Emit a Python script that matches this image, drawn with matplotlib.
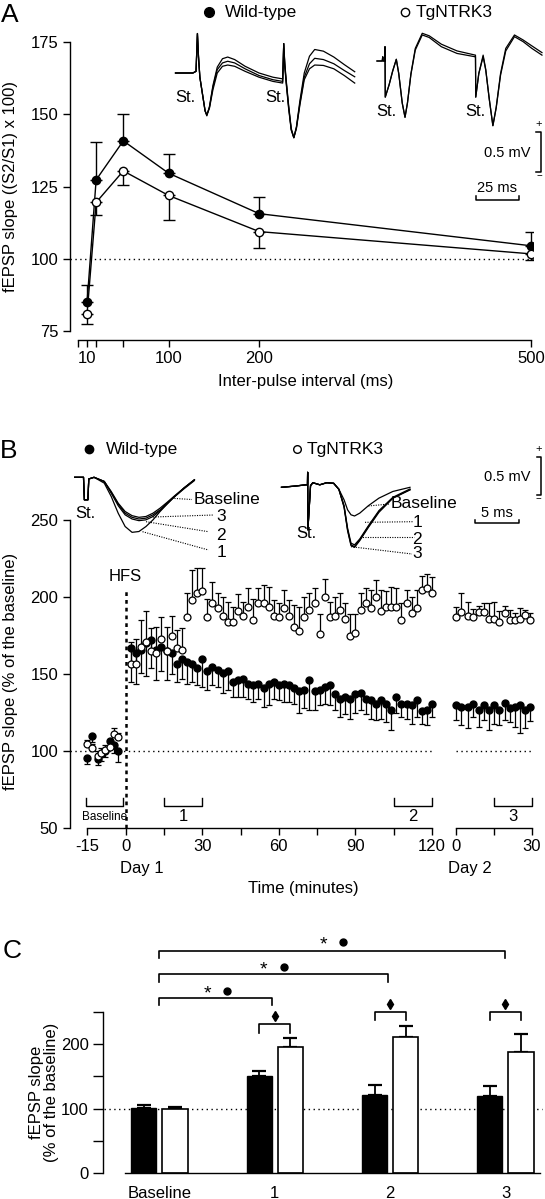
import numpy as np
import matplotlib
matplotlib.use("Agg")
import matplotlib.pyplot as plt

plt.rcParams['font.family'] = ['Liberation Sans', 'DejaVu Sans']
plt.rcParams['font.size'] = 12

W, H = 545, 1199

# ---------------- panel A : paired-pulse facilitation
ipi = [10, 20, 50, 100, 200, 500]
wt_ppf = [85, 127.3, 140.8, 129.6, 115.6, 104.5]
wt_ppf_err = [6, 13.2, 9.4, 6.7, 5.9, 4.6]
tg_ppf = [81, 119.5, 130.4, 121.9, 109.4, 101.7]
tg_ppf_err = [3.6, 4.3, 4.8, 8.4, 5.5, 2.2]

# ---------------- panel B : LTP time course
t_base = [-15, -13, -11, -9.5, -8, -6, -4.5, -3]
wt_base = [95.5, 110, 95, 98.5, 100.5, 107, 104, 100]
wt_base_err = [4, 4, 4, 5, 4, 5, 5, 7]
tg_base = [104.5, 102, 97, 99, 101, 103, 111, 109]
tg_base_err = [3, 3, 3, 3, 3, 4, 4, 3]

t_day1 = list(range(2, 121, 2))
wt_day1 = [167, 164, 166, 170, 172, 166, 168, 165, 164, 157, 160, 158, 157, 154, 160,
           152, 155, 153, 151, 152, 145, 146, 147, 144, 143, 144, 141, 144, 145, 143,
           144, 143, 141, 139, 140, 146, 139, 140, 142, 143, 137, 134, 135, 134, 137,
           138, 134, 133, 131, 133, 131, 127, 135, 131, 131, 130, 133, 126, 127, 131]
wt_day1_err = [22, 20, 15, 21, 18, 20, 16, 19, 14, 12, 13, 14, 12, 11, 18,
               12, 12, 11, 13, 12, 10, 11, 12, 10, 11, 10, 12, 14, 11, 10,
               12, 11, 10, 14, 12, 19, 12, 10, 11, 13, 10, 12, 11, 13, 12,
               11, 10, 12, 11, 12, 12, 13, 10, 9, 10, 12, 11, 8, 10, 9]
tg_day1 = [157, 157, 168, 171, 165, 164, 173, 165, 175, 167, 166, 187, 198, 203, 204,
           187, 196, 193, 188, 184, 184, 191, 188, 194, 185, 196, 196, 194, 188, 187,
           193, 188, 181, 178, 187, 192, 196, 176, 200, 187, 188, 192, 186, 175, 177,
           192, 196, 193, 200, 191, 194, 194, 194, 185, 196, 190, 193, 205, 206, 203]
tg_day1_err = [14, 16, 17, 20, 15, 17, 14, 16, 13, 12, 14, 16, 20, 16, 15,
               12, 14, 10, 12, 13, 10, 11, 9, 12, 14, 10, 12, 13, 10, 9,
               12, 10, 14, 16, 13, 11, 10, 13, 12, 10, 12, 11, 10, 14, 12,
               11, 10, 12, 11, 14, 10, 13, 12, 11, 9, 10, 12, 9, 9, 10]

t_day2 = [0, 2, 4.5, 6.5, 9, 11, 13, 15, 17, 19.5, 21.5, 23.5, 25.5, 27.5, 29.5]
wt_day2 = [130, 129, 129, 131, 126.5, 130, 127, 130, 127, 131.5, 128, 128.5, 130, 127, 128.5]
wt_day2_err = [10, 12, 14, 9, 11, 10, 13, 12, 10, 11, 9, 13, 18, 12, 9]
tg_day2 = [187, 190.5, 188, 187.5, 190.5, 190.5, 186, 186, 184, 189.5, 185, 185, 186, 188.5, 185]
tg_day2_err = [7, 12, 9, 5, 4, 6, 10, 11, 7, 5, 7, 5, 7, 3, 5]

# ---------------- panel C : bar summary
groups = ['Baseline', '1', '2', '3']
wt_bar = [101, 150, 122, 120]
wt_bar_err = [5, 9, 14.5, 15.5]
tg_bar = [100, 195, 211, 188.5]
tg_bar_err = [3.5, 15, 17.5, 27.5]

# ---------------- example traces (ms, mV)
trA_wt_t = [0, 10, 11.8, 12.6, 13.2, 14, 15.5, 17, 18, 19.5, 21.5, 24, 27, 30, 34, 40, 48,
            56, 61.6, 62.2, 62.8, 63.6, 65, 66.5, 68, 69.5, 71.5, 74, 77, 80, 85, 91, 97, 103]
trA_wt_v = [
    [0, 0, 0.02, 0.47, 0.2, -0.05, -0.25, -0.45, -0.51, -0.4, -0.15, 0.07, 0.17, 0.19, 0.16, 0.08, 0.0,
     -0.05, -0.07, 0.35, 0.12, -0.08, -0.38, -0.66, -0.77, -0.64, -0.33, 0.0, 0.2, 0.28, 0.26, 0.19, 0.1, 0.015],
    [0, 0, 0.02, 0.47, 0.2, -0.05, -0.25, -0.45, -0.5, -0.41, -0.17, 0.04, 0.12, 0.14, 0.12, 0.05, -0.03,
     -0.08, -0.1, 0.35, 0.1, -0.1, -0.4, -0.67, -0.77, -0.65, -0.36, -0.05, 0.11, 0.175, 0.16, 0.11, 0.03, -0.045],
    [0, 0, 0.02, 0.47, 0.2, -0.05, -0.25, -0.45, -0.5, -0.42, -0.2, 0.0, 0.08, 0.095, 0.08, 0.02, -0.05,
     -0.1, -0.12, 0.35, 0.08, -0.12, -0.42, -0.68, -0.77, -0.66, -0.38, -0.08, 0.05, 0.095, 0.09, 0.05, -0.03, -0.12],
]
trA_tg_t = [0, 3.0, 3.3, 3.6, 4.5, 4.6, 4.75, 7, 9, 11.1, 12.5, 14.5, 16.1, 17.5, 19.5, 22, 26, 30, 37, 46,
            56.5, 56.6, 56.75, 58.5, 61, 62.5, 64.5, 66.6, 68.5, 71, 74, 79, 84, 89, 94.8]
trA_tg_v = [
    [0, 0, 0.05, 0, 0, 0.17, -0.43, -0.28, -0.12, 0.02, -0.15, -0.5, -0.67, -0.5, -0.15, 0.15, 0.33, 0.3, 0.2, 0.12,
     0.07, 0.07, -0.43, -0.15, 0.07, -0.1, -0.45, -0.77, -0.55, -0.15, 0.15, 0.31, 0.25, 0.18, 0.1],
    [0, 0, 0.05, 0, 0, 0.17, -0.43, -0.28, -0.12, 0.02, -0.15, -0.5, -0.67, -0.5, -0.16, 0.13, 0.31, 0.28, 0.17, 0.09,
     0.05, 0.05, -0.43, -0.15, 0.05, -0.11, -0.45, -0.77, -0.56, -0.17, 0.12, 0.29, 0.23, 0.15, 0.07],
]
trB_wt_t = [0, 1.0, 1.1, 1.5, 1.6, 2.2, 3.36, 4.15, 4.94, 5.73, 6.52, 7.3, 8.1, 8.9, 9.7, 10.5, 11.26, 12.4, 13.6]
trB_wt_v = [
    [0, 0, -0.27, -0.27, -0.02, 0, -0.05, -0.17, -0.31, -0.41, -0.46, -0.48, -0.47, -0.43, -0.37, -0.30, -0.23, -0.13, -0.03],
    [0, 0, -0.27, -0.27, -0.02, 0, -0.05, -0.18, -0.32, -0.43, -0.48, -0.50, -0.49, -0.45, -0.39, -0.31, -0.24, -0.13, -0.03],
    [0, 0, -0.27, -0.27, -0.02, 0, -0.05, -0.19, -0.34, -0.45, -0.50, -0.52, -0.51, -0.47, -0.40, -0.32, -0.24, -0.14, -0.04],
    [0, 0, -0.27, -0.27, -0.02, 0, -0.07, -0.23, -0.43, -0.59, -0.66, -0.65, -0.59, -0.51, -0.41, -0.32, -0.24, -0.13, -0.03],
]
trB_tg_t = [0, 1.58, 2.77, 2.95, 2.97, 3.0, 3.3, 3.56, 4.35, 5.14, 5.93, 6.52, 7.11, 7.51, 7.9, 8.3, 8.89, 9.88, 11.07, 12.65, 14.6]
trB_tg_v = [
    [0, 0.015, 0.03, 0.03, 0.18, -0.51, 0.02, 0.055, 0.03, 0.055, 0.048, -0.024, -0.15, -0.27, -0.33, -0.344, -0.31, -0.22, -0.13, -0.05, 0],
    [0, 0.015, 0.03, 0.03, 0.18, -0.51, 0.02, 0.055, 0.03, 0.055, 0.048, -0.024, -0.22, -0.49, -0.67, -0.69, -0.62, -0.46, -0.28, -0.12, -0.02],
    [0, 0.015, 0.03, 0.03, 0.18, -0.51, 0.02, 0.055, 0.03, 0.055, 0.048, -0.024, -0.23, -0.51, -0.69, -0.71, -0.63, -0.47, -0.29, -0.13, -0.03],
    [0, 0.015, 0.03, 0.03, 0.18, -0.51, 0.02, 0.055, 0.03, 0.055, 0.048, -0.024, -0.24, -0.52, -0.70, -0.72, -0.64, -0.48, -0.30, -0.13, -0.03],
]

fig = plt.figure(figsize=(W / 100, H / 100), dpi=100)


def px_axes(x0, y0, x1, y1):
    ax = fig.add_axes([x0 / W, 1 - y1 / H, (x1 - x0) / W, (y1 - y0) / H])
    ax.patch.set_visible(False)
    return ax


def style(ax, length=5):
    for s in ['top', 'right']:
        ax.spines[s].set_visible(False)
    for s in ['left', 'bottom']:
        ax.spines[s].set_linewidth(1)
    ax.tick_params(direction='out', length=length, width=1, labelsize=12, pad=3)


def trace_axes(x0, x1, y0, y1, t0, v0, px_ms, px_mv):
    ax = px_axes(x0, y0, x1, y1)
    ax.set_xlim((x0 - t0) / px_ms, (x1 - t0) / px_ms)
    ax.set_ylim((v0 - y1) / px_mv, (v0 - y0) / px_mv)
    ax.axis('off')
    return ax


dotted = (0, (1, 2.5))

# overlay in pixel coordinates for labels and decorations
ov = px_axes(0, 0, W, H)
ov.set_xlim(0, W)
ov.set_ylim(H, 0)
ov.axis('off')
ov.set_zorder(10)

# ================= Panel A
axA = px_axes(69.5, 42, 533, 340)
style(axA)
axA.set_xlim(-9.4, 502.2)
axA.set_ylim(71.9, 175)
axA.spines['left'].set_bounds(75, 175)
axA.spines['bottom'].set_bounds(0, 500)
axA.set_yticks([75, 100, 125, 150, 175])
axA.set_xticks([0, 10, 20, 50, 100, 200, 500])
axA.set_xticklabels(['', '10', '', '', '100', '200', '500'])
axA.plot([-9.4, 506], [100, 100], color='k', lw=1, ls=dotted, clip_on=False)
n = len(ipi)
axA.errorbar(ipi, wt_ppf, yerr=[np.zeros(n), wt_ppf_err], fmt='none', ecolor='k',
             elinewidth=1, capsize=4, capthick=1)
axA.errorbar(ipi, tg_ppf, yerr=[tg_ppf_err, np.zeros(n)], fmt='none', ecolor='k',
             elinewidth=1, capsize=4, capthick=1)
axA.plot(ipi, wt_ppf, '-o', color='k', lw=1, ms=6, mfc='k', mec='k', zorder=3)
axA.plot(ipi, tg_ppf, '-o', color='k', lw=1, ms=6, mfc='w', mec='k', mew=1, zorder=4)

ov.text(11, 186.5, 'fEPSP slope ((S2/S1) x 100)', rotation=90, ha='center', va='center', fontsize=12)
ov.text(306, 381.7, 'Inter-pulse interval (ms)', ha='center', va='center', fontsize=12)
ov.text(1, 22, 'A', fontsize=19, va='baseline')

ov.plot(208.5, 12, 'o', ms=7, mfc='k', mec='k')
ov.text(225, 12, 'Wild-type', ha='left', va='center', fontsize=12.5)
ov.plot(405, 12, 'o', ms=6, mfc='w', mec='k', mew=1)
ov.text(416, 12, 'TgNTRK3', ha='left', va='center', fontsize=12.5)

tA1 = trace_axes(170, 360, 25, 145, 175.5, 73, 1.74, 84)
for v in trA_wt_v:
    tA1.plot(trA_wt_t, v, color='k', lw=0.9)
tA2 = trace_axes(372, 545, 25, 145, 377, 61, 1.74, 84)
for v in trA_tg_v:
    tA2.plot(trA_tg_t, v, color='k', lw=0.9)
for x, y in [(185, 97), (275.5, 97), (386.6, 111.5), (475, 111.5)]:
    ov.text(x, y, 'St.', ha='center', va='center', fontsize=12)

# scale bars A
ov.plot([536, 541, 541, 536], [131.5, 131.5, 172.3, 172.3], color='k', lw=1.1)
ov.text(539, 124, '+', ha='center', va='center', fontsize=8)
ov.text(539, 176, '\u2212', ha='center', va='center', fontsize=7)
ov.text(530, 153, '0.5 mV', ha='right', va='center', fontsize=10.5)
ov.plot([475.5, 475.5, 519, 519], [196, 200, 200, 196], color='k', lw=1.1)
ov.text(497, 188, '25 ms', ha='center', va='center', fontsize=10.5)

# ================= Panel B
axB1 = px_axes(69.5, 520.3, 434.6, 828.3)
style(axB1)
axB1.set_xlim(-22, 121)
axB1.set_ylim(50, 250)
axB1.spines['left'].set_bounds(50, 250)
axB1.spines['bottom'].set_bounds(-15, 120)
axB1.set_yticks([50, 100, 150, 200, 250])
axB1.set_xticks([-15, 0, 15, 30, 45, 60, 75, 90, 105, 120])
axB1.set_xticklabels(['-15', '0', '', '30', '', '60', '', '90', '', '120'])

axB2 = px_axes(453.9, 520.3, 534.2, 828.3)
style(axB2)
axB2.spines['left'].set_visible(False)
axB2.set_xlim(-1, 31)
axB2.set_ylim(50, 250)
axB2.set_yticks([])
axB2.spines['bottom'].set_bounds(0, 30)
axB2.set_xticks([0, 15, 30])
axB2.set_xticklabels(['0', '', '30'])

axB1.plot([-22, 120], [100, 100], color='k', lw=1, ls=dotted, clip_on=False)
axB2.plot([0, 30], [100, 100], color='k', lw=1, ls=dotted, clip_on=False)
axB1.plot([0, 0], [50, 204.7], color='k', lw=1.8, ls=(0, (1.5, 1.6)), clip_on=False)
axB1.text(0, 213.5, 'HFS', ha='center', va='center', fontsize=12)


def lt_series(ax, t, wt, wt_err, tg, tg_err):
    z = np.zeros(len(t))
    ax.errorbar(t, wt, yerr=[wt_err, z], fmt='none', ecolor='k', elinewidth=0.9,
                capsize=2.3, capthick=0.9, clip_on=False)
    ax.errorbar(t, tg, yerr=[z, tg_err], fmt='none', ecolor='k', elinewidth=0.9,
                capsize=2.3, capthick=0.9, clip_on=False)
    ax.plot(t, wt, 'o', ms=5, mfc='k', mec='k', zorder=3, clip_on=False)
    ax.plot(t, tg, 'o', ms=5, mfc='w', mec='k', mew=0.9, zorder=4, clip_on=False)


lt_series(axB1, t_base, wt_base, wt_base_err, tg_base, tg_base_err)
lt_series(axB1, t_day1, wt_day1, wt_day1_err, tg_day1, tg_day1_err)
lt_series(axB2, t_day2, wt_day2, wt_day2_err, tg_day2, tg_day2_err)


def period(ax, x0, x1, label, fs=12):
    ax.plot([x0, x0, x1, x1], [69.7, 64.5, 64.5, 69.7], color='k', lw=1, clip_on=False)
    ax.text((x0 + x1) / 2, 57.4, label, ha='center', va='center', fontsize=fs)


period(axB1, -15.5, -1, 'Baseline', fs=8.5)
period(axB1, 15, 30, '1')
period(axB1, 105, 120, '2')
period(axB2, 15, 30, '3')

ov.text(11, 671, 'fEPSP slope (% of the baseline)', rotation=90, ha='center', va='center', fontsize=12)
ov.text(303, 888, 'Time (minutes)', ha='center', va='center', fontsize=12)
ov.text(141.6, 869, 'Day 1', ha='center', va='center', fontsize=12)
ov.text(470, 869, 'Day 2', ha='center', va='center', fontsize=12)
ov.text(0, 458.3, 'B', fontsize=19, va='baseline')

ov.plot(88.6, 449.3, 'o', ms=6, mfc='k', mec='k')
ov.text(106, 449.3, 'Wild-type', ha='left', va='center', fontsize=12.5)
ov.plot(297, 449.3, 'o', ms=5.5, mfc='w', mec='k', mew=1)
ov.text(307, 449.3, 'TgNTRK3', ha='left', va='center', fontsize=12.5)

tB1 = trace_axes(70, 200, 455, 545, 74.7, 477.3, 8.8, 83.4)
for v in trB_wt_v:
    tB1.plot(trB_wt_t, v, color='k', lw=0.9)
tB2 = trace_axes(278, 415, 455, 560, 281.5, 487.3, 8.8, 83.4)
for v in trB_tg_v:
    tB2.plot(trB_tg_t, v, color='k', lw=0.9)
ov.text(85, 513, 'St.', ha='center', va='center', fontsize=12)
ov.text(306, 533, 'St.', ha='center', va='center', fontsize=12)

leaders = [
    ((172, 498.3), (192, 499.5), 'Baseline', 193.6, 500, 'left'),
    ((153, 517), (213.8, 515), '3', 221, 516.7, 'center'),
    ((146, 521.7), (208.5, 531.7), '2', 221, 535, 'center'),
    ((142.5, 531.7), (208.5, 550), '1', 221, 552.7, 'center'),
    ((368.4, 506), (389.3, 504), 'Baseline', 391, 504, 'left'),
    ((365, 522.3), (413.6, 521.7), '1', 417, 522.7, 'center'),
    ((359.7, 536.7), (413.6, 536.7), '2', 417, 539.3, 'center'),
    ((351, 546.7), (412, 554), '3', 417, 554, 'center'),
]
for p0, p1, lab, tx, ty, ha in leaders:
    ov.plot([p0[0], p1[0]], [p0[1], p1[1]], color='k', lw=0.8, ls=(0, (1, 1.2)))
    ov.text(tx, ty, lab, ha=ha, va='center', fontsize=12.5)

ov.plot([537, 540.5, 540.5, 537], [456.7, 456.7, 495, 495], color='k', lw=1.1)
ov.text(538.5, 449, '+', ha='center', va='center', fontsize=8)
ov.text(538.5, 499, '\u2212', ha='center', va='center', fontsize=7)
ov.text(530, 476.7, '0.5 mV', ha='right', va='center', fontsize=10.5)
ov.plot([474.5, 474.5, 518.6, 518.6], [520, 523.3, 523.3, 520], color='k', lw=1.1)
ov.text(496.5, 513, '5 ms', ha='center', va='center', fontsize=10.5)

# ================= Panel C
axC = px_axes(102.5, 930, 545, 1173.3)
style(axC, length=7)
axC.set_xlim(-0.494, 3.343)
axC.set_ylim(0, 377)
axC.spines['left'].set_bounds(0, 250)
axC.spines['bottom'].set_bounds(-0.3, 3.3)
axC.set_yticks([0, 50, 100, 150, 200, 250])
axC.set_yticklabels(['0', '', '100', '', '200', ''])
xg = np.arange(len(groups))
axC.set_xticks(xg)
axC.set_xticklabels(groups)
axC.tick_params(axis='x', length=0, pad=9)

axC.plot([-0.48, 3.32], [100, 100], color='k', lw=1, ls=dotted, clip_on=False, zorder=1)
z4 = np.zeros(len(groups))
axC.errorbar(xg - 0.1345, wt_bar, yerr=[z4, wt_bar_err], fmt='none', ecolor='k',
             elinewidth=1.3, capsize=5, capthick=1.6, zorder=1)
axC.errorbar(xg + 0.1345, tg_bar, yerr=[z4, tg_bar_err], fmt='none', ecolor='k',
             elinewidth=1.3, capsize=5, capthick=1.6, zorder=1)
axC.bar(xg - 0.1345, wt_bar, width=0.217, color='k', edgecolor='k', lw=1, zorder=2)
axC.bar(xg + 0.1345, tg_bar, width=0.22, color='w', edgecolor='k', lw=1.2, zorder=2)


def sig_bracket(ax, x0, x1, y, drop):
    ax.plot([x0, x0, x1, x1], [y - drop, y, y, y - drop], color='k', lw=1.2, clip_on=False)


sig_bracket(axC, 0, 3, 345, 12)
sig_bracket(axC, 0, 1.98, 308.5, 12)
sig_bracket(axC, 0, 0.98, 271.3, 10.5)
for sx, dx, dy in [(1.418, 1.59, 359), (0.906, 1.082, 319), (0.416, 0.582, 283)]:
    axC.text(sx, dy - 4.5, '*', ha='center', va='center', fontsize=14, clip_on=False)
    axC.plot(dx, dy, 'o', ms=5, color='k', clip_on=False)

for gx, y, drop, dy in [(1, 232, 14, 243), (2, 249.6, 12, 262), (3, 249.6, 12, 262)]:
    sig_bracket(axC, gx - 0.135, gx + 0.135, y, drop)
    axC.plot(gx, dy, 'd', ms=5, color='k', clip_on=False)

ov.text(44, 1092, 'fEPSP slope\n(% of the baseline)', rotation=90, ha='center', va='center',
        fontsize=12, linespacing=1.05)
ov.text(3, 958, 'C', fontsize=19, va='baseline')

fig.savefig('out.png', dpi=100)
